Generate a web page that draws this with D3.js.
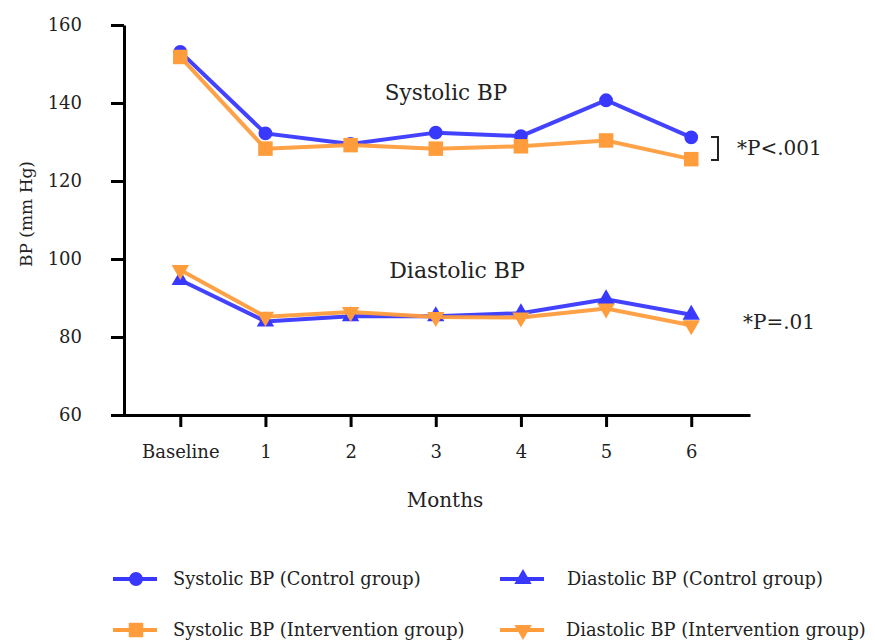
<!DOCTYPE html>
<html>
<head>
<meta charset="utf-8">
<script src="https://cdn.jsdelivr.net/npm/d3@7"></script>
<style>
  body { margin: 0; background: #fff; }
  text { font-family: "DejaVu Serif", serif; fill: #222; }
</style>
</head>
<body>
<svg id="chart"></svg>
<script>
// data
let months = ["Baseline", "1", "2", "3", "4", "5", "6"]
let sysControl = [153.1, 132.2, 129.5, 132.4, 131.5, 140.7, 131.2]
let sysIntervention = [151.8, 128.3, 129.2, 128.3, 128.9, 130.4, 125.6]
let diaControl = [94.6, 84.0, 85.3, 85.3, 86.1, 89.7, 85.7]
let diaIntervention = [97.2, 85.2, 86.4, 85.1, 85.0, 87.3, 83.0]
let yTicks = [60, 80, 100, 120, 140, 160]

let width = 875
let height = 641

let blue = "#3838ff"
let orange = "#ff9c3c"

let svg = d3.select("#chart")
  .attr("width", width)
  .attr("height", height)

let xScale = d3.scaleLinear()
  .domain([-0.79, 6.69])
  .range([113, 750])

let yScale = d3.scaleLinear()
  .domain([60, 160])
  .range([415, 25])

let series = [
  {name: "Systolic BP (Control group)", values: sysControl, color: blue, shape: "circle"},
  {name: "Systolic BP (Intervention group)", values: sysIntervention, color: orange, shape: "square"},
  {name: "Diastolic BP (Control group)", values: diaControl, color: blue, shape: "up"},
  {name: "Diastolic BP (Intervention group)", values: diaIntervention, color: orange, shape: "down"}
]

let symbolPath = (shape) => {
  if (shape == "circle") return d3.symbol(d3.symbolCircle, 150)()
  if (shape == "square") return d3.symbol(d3.symbolSquare, 210)()
  return d3.symbol(d3.symbolTriangle, 130)()
}

// axes
let xAxis = d3.axisBottom(xScale)
  .tickValues(d3.range(months.length))
  .tickFormat((d) => months[d])
  .tickSize(12)
  .tickSizeOuter(0)
  .tickPadding(18)

let yAxis = d3.axisLeft(yScale)
  .tickValues(yTicks)
  .tickSize(13)
  .tickSizeOuter(0)
  .tickPadding(29)

svg.append("g")
  .attr("transform", "translate(0,415)")
  .call(xAxis)
svg.append("g")
  .attr("transform", "translate(124,0)")
  .call(yAxis)

svg.selectAll(".domain, .tick line")
  .attr("stroke", "#000")
  .attr("stroke-width", 3)
svg.selectAll(".tick text")
  .style("font-family", "DejaVu Serif, serif")
  .style("font-size", "18px")
  .attr("fill", "#222")

svg.append("text")
  .attr("transform", "translate(32,214) rotate(-90)")
  .attr("text-anchor", "middle")
  .style("font-size", "17px")
  .text("BP (mm Hg)")

svg.append("text")
  .attr("x", 445)
  .attr("y", 507)
  .attr("text-anchor", "middle")
  .style("font-size", "20px")
  .text("Months")

// lines and markers
let line = d3.line()
  .x((d, i) => xScale(i))
  .y((d) => yScale(d))

series.forEach((s) => {
  svg.append("path")
     .datum(s.values)
     .attr("d", line)
     .attr("fill", "none")
     .attr("stroke", s.color)
     .attr("stroke-width", 4)
     .attr("stroke-opacity", 0.95)

  svg.selectAll(null)
     .data(s.values)
     .enter()
     .append("path")
     .attr("d", symbolPath(s.shape))
     .attr("transform", (d, i) => "translate(" + xScale(i) + "," + yScale(d) + ")" + (s.shape == "down" ? " rotate(180)" : ""))
     .attr("fill", s.color)
})

// annotations
svg.append("text")
  .attr("x", 446)
  .attr("y", 100)
  .attr("text-anchor", "middle")
  .style("font-size", "21.5px")
  .text("Systolic BP")

svg.append("text")
  .attr("x", 457)
  .attr("y", 278)
  .attr("text-anchor", "middle")
  .style("font-size", "22px")
  .text("Diastolic BP")

svg.append("path")
  .attr("d", "M711,137 H718 V160 H711")
  .attr("fill", "none")
  .attr("stroke", "#222")
  .attr("stroke-width", 2)

svg.append("text")
  .attr("x", 737)
  .attr("y", 155)
  .style("font-size", "20px")
  .text("*P<.001")

svg.append("text")
  .attr("x", 743)
  .attr("y", 329)
  .style("font-size", "20px")
  .text("*P=.01")

// legend
let legendPos = [
  {x: 113, y: 579, tx: 173},
  {x: 113, y: 630, tx: 173},
  {x: 500, y: 579, tx: 567},
  {x: 500, y: 630, tx: 566}
]

series.forEach((s, i) => {
  let p = legendPos[i]
  let g = svg.append("g")
  g.append("line")
   .attr("x1", p.x)
   .attr("x2", p.x + 44)
   .attr("y1", p.y)
   .attr("y2", p.y)
   .attr("stroke", s.color)
   .attr("stroke-width", 4)
  g.append("path")
   .attr("d", symbolPath(s.shape))
   .attr("transform", "translate(" + (p.x + 23) + "," + p.y + ")" + (s.shape == "down" ? " rotate(180)" : ""))
   .attr("fill", s.color)
  g.append("text")
   .attr("x", p.tx)
   .attr("y", p.y)
   .attr("dy", "0.35em")
   .style("font-size", "17.8px")
   .text(s.name)
})
</script>
</body>
</html>
